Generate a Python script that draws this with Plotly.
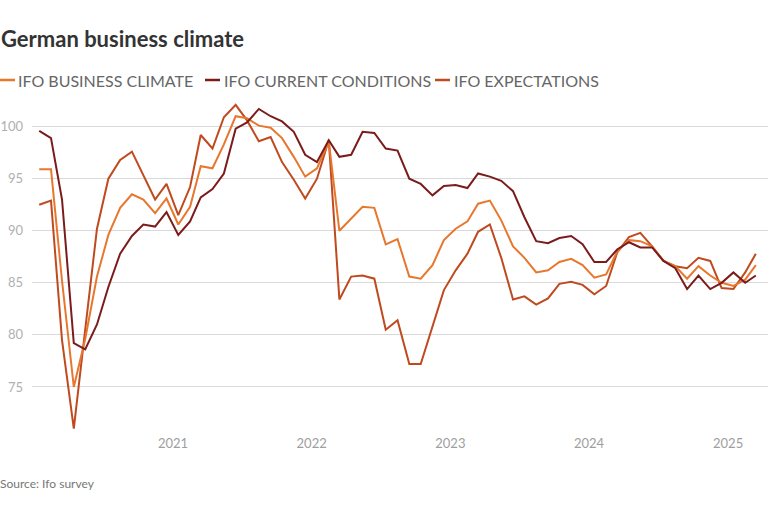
import pandas as pd
import plotly.graph_objects as go

# monthly ifo readings, Jan 2020 - Mar 2025 (2015=100), plotted mid-month
months = pd.date_range("2020-01-01", periods=63, freq="MS") + pd.Timedelta(days=14)

business_climate = [
    95.9, 95.9, 85.2, 75.0, 79.6, 85.6, 89.6, 92.2, 93.5, 93.0, 91.7, 93.1,
    90.6, 92.3, 96.2, 96.0, 98.3, 101.0, 100.8, 100.1, 99.9, 98.9, 97.1, 95.2,
    96.0, 98.6, 90.0, 91.2, 92.3, 92.2, 88.7, 89.2, 85.6, 85.4, 86.7, 89.1,
    90.2, 90.9, 92.6, 92.9, 91.0, 88.5, 87.4, 86.0, 86.2, 87.0, 87.3, 86.7,
    85.5, 85.8, 88.0, 89.1, 89.0, 88.5, 87.1, 86.6, 85.4, 86.6, 85.7, 85.0,
    84.7, 85.3, 86.7,
]
current_conditions = [
    99.6, 98.9, 93.0, 79.2, 78.6, 81.0, 84.6, 87.8, 89.5, 90.6, 90.4, 91.8,
    89.6, 90.9, 93.2, 94.0, 95.5, 99.8, 100.4, 101.7, 101.0, 100.5, 99.5, 97.3,
    96.6, 98.7, 97.1, 97.3, 99.5, 99.4, 97.9, 97.7, 95.0, 94.5, 93.4, 94.3,
    94.4, 94.1, 95.5, 95.2, 94.8, 93.8, 91.3, 89.0, 88.8, 89.3, 89.5, 88.7,
    87.0, 87.0, 88.2, 88.9, 88.4, 88.4, 87.1, 86.4, 84.4, 85.7, 84.4, 85.0,
    86.0, 85.0, 85.7,
]
expectations = [
    92.5, 92.9, 79.5, 71.0, 80.5, 90.2, 95.0, 96.8, 97.6, 95.4, 93.0, 94.5,
    91.5, 94.2, 99.2, 97.9, 100.9, 102.1, 100.6, 98.6, 99.0, 96.6, 94.9, 93.1,
    95.0, 98.7, 83.4, 85.6, 85.7, 85.4, 80.5, 81.4, 77.2, 77.2, 80.8, 84.3,
    86.2, 87.8, 89.9, 90.6, 87.4, 83.4, 83.7, 82.9, 83.5, 84.9, 85.1, 84.8,
    83.9, 84.7, 87.9, 89.4, 89.8, 88.5, 87.1, 86.6, 86.4, 87.4, 87.1, 84.5,
    84.4, 86.0, 87.8,
]

series = [
    ("IFO BUSINESS CLIMATE", business_climate, "#e8772e"),
    ("IFO CURRENT CONDITIONS", current_conditions, "#7b1c1c"),
    ("IFO EXPECTATIONS", expectations, "#c04a1f"),
]

year_ticks = ["2021-01-01", "2022-01-01", "2023-01-01", "2024-01-01", "2025-01-01"]
year_labels = ["2021", "2022", "2023", "2024", "2025"]

FONT = "Lato"

fig = go.Figure()
# expectations underneath, current conditions on top
for name, vals, col in [series[2], series[0], series[1]]:
    fig.add_trace(go.Scatter(x=months, y=vals, name=name, mode="lines",
                             line=dict(color=col, width=2)))

fig.update_layout(
    width=768, height=512,
    margin=dict(l=32, r=0, t=100, b=78),
    paper_bgcolor="white", plot_bgcolor="white",
    showlegend=False,
    font=dict(family=FONT, color="#555555"),
)
fig.update_xaxes(
    range=["2019-12-27", "2025-04-16"],
    tickvals=year_ticks, ticktext=year_labels,
    showgrid=False, zeroline=False, showline=False, ticks="",
    tickfont=dict(size=13, color="#9e9e9e", family=FONT),
)
fig.update_yaxes(
    range=[70.48, 102.56],
    tickvals=[75, 80, 85, 90, 95, 100],
    showgrid=True, gridcolor="#d9d9d9", gridwidth=1,
    zeroline=False, showline=False, ticks="",
    ticklabelstandoff=8,
    tickfont=dict(size=13, color="#b0b0b0", family=FONT),
)

# title and source, offset in pixels from the plot area corners
fig.add_annotation(text="<b>German business climate</b>", xref="paper", yref="paper",
                   x=0, y=1, xanchor="left", yanchor="middle", xshift=-33, yshift=62,
                   showarrow=False, font=dict(size=22, color="#333333", family=FONT))
fig.add_annotation(text="Source: Ifo survey", xref="paper", yref="paper",
                   x=0, y=0, xanchor="left", yanchor="middle", xshift=-34, yshift=-49,
                   showarrow=False, font=dict(size=12, color="#777777", family=FONT))

# legend drawn by hand to get the short line keys
legend_pos = [(0, 18), (205, 224), (435, 454)]
for (name, vals, col), (lx, tx) in zip(series, legend_pos):
    fig.add_shape(type="line", xref="paper", yref="paper",
                  xsizemode="pixel", ysizemode="pixel", xanchor=0, yanchor=1,
                  x0=lx - 32, x1=lx - 17, y0=20, y1=20,
                  line=dict(color=col, width=2.5))
    fig.add_annotation(text=name, xref="paper", yref="paper", x=0, y=1,
                       xanchor="left", yanchor="middle", xshift=tx - 34, yshift=20,
                       showarrow=False, font=dict(size=16, color="#666666", family=FONT))

# drop the browser's default body margin so the figure sits at the page corner
fig.write_html("out.html", config={"displayModeBar": False},
               post_script="document.body.style.margin='0';")
